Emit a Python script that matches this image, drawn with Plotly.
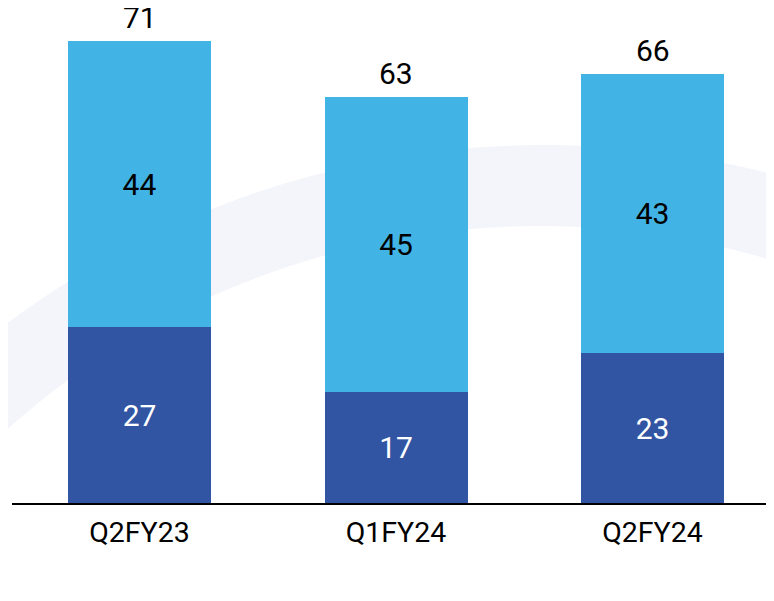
import numpy as np
import plotly.graph_objects as go

categories = ["Q2FY23", "Q1FY24", "Q2FY24"]
dark_values = [27, 17, 23]
light_values = [44, 45.4, 43]
dark_labels = ["27", "17", "23"]
light_labels = ["44", "45", "43"]
total_labels = ["71", "63", "66"]

# the page body adds an 8px offset; size the figure to the window minus that
OFF = 8
W, H = 774 - OFF, 601 - OFF
ML, MR, MT = 4, 0, 0
BASE = 503 - OFF            # baseline y in figure pixels
MB = H - BASE
PW, PH = W - ML - MR, BASE - MT

DARK = "#3155A3"
LIGHT = "#42B3E5"
FONT = "Roboto"

fig = go.Figure()
fig.add_trace(go.Bar(
    x=categories, y=dark_values, marker=dict(color=DARK, line=dict(width=0)),
    text=dark_labels, textposition="inside", insidetextanchor="middle",
    textfont=dict(family=FONT, size=30, color="white"), hoverinfo="skip",
))
fig.add_trace(go.Bar(
    x=categories, y=light_values, marker=dict(color=LIGHT, line=dict(width=0)),
    text=light_labels, textposition="inside", insidetextanchor="middle",
    textfont=dict(family=FONT, size=30, color="black"), hoverinfo="skip",
))
totals = [d + l for d, l in zip(dark_values, light_values)]
for c, t, lab in zip(categories, totals, total_labels):
    fig.add_annotation(x=c, y=t, text=lab, showarrow=False, yanchor="bottom",
                       yshift=4, font=dict(family=FONT, size=30, color="black"))

# decorative background arc band (page pixel geometry -> paper coords)
def to_paper(px, py):
    return (px - OFF - ML) / PW, (BASE - (py - OFF)) / PH

xs = np.linspace(0, 800, 120)
outer_y = 1045 - np.sqrt(900**2 - (xs - 545) ** 2)
inner_y = 1026 - np.sqrt(800**2 - (xs - 540) ** 2)
pts = [to_paper(x, y) for x, y in zip(xs, outer_y)] + \
      [to_paper(x, y) for x, y in zip(xs[::-1], inner_y[::-1])]
path = "M " + " L ".join(f"{a:.5f},{b:.5f}" for a, b in pts) + " Z"
fig.add_shape(type="path", path=path, xref="paper", yref="paper",
              fillcolor="#F4F5FA", line=dict(width=0), layer="below")

span = PW / 256.5
r0 = -(139.5 - OFF - ML) / 256.5
fig.update_layout(
    width=W, height=H, barmode="stack", bargap=0.4425, showlegend=False,
    margin=dict(l=ML, r=MR, t=MT, b=MB, pad=0),
    paper_bgcolor="white", plot_bgcolor="rgba(0,0,0,0)",
    xaxis=dict(range=[r0, r0 + span], showgrid=False, zeroline=False,
               showline=True, linecolor="black", linewidth=1.5,
               ticks="", tickfont=dict(family=FONT, size=28.5, color="black"),
               ticklabelstandoff=3),
    yaxis=dict(range=[0, PH / 6.507], visible=False, showgrid=False, zeroline=False),
)

fig.write_html("out.html")
